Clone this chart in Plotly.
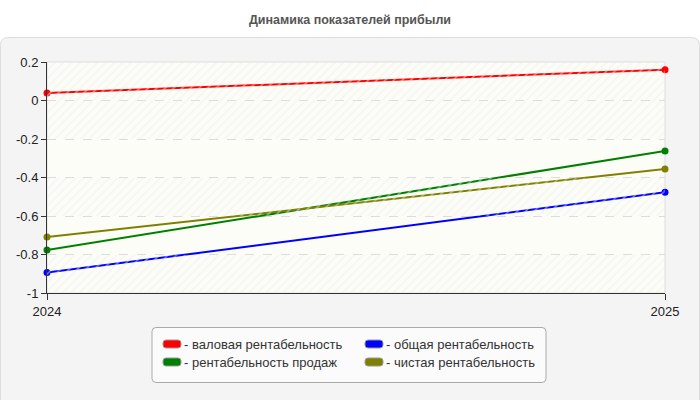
import plotly.graph_objects as go

# ---- data ----
years = [2024, 2025]
year_labels = ["2024", "2025"]
series_names = ["валовая рентабельность", "рентабельность продаж",
                "общая рентабельность", "чистая рентабельность"]
gross = [0.039, 0.16]
sales = [-0.777, -0.262]
total = [-0.894, -0.477]
net = [-0.709, -0.356]
series_values = [gross, sales, total, net]
series_colors = ["#ff0000", "#008000", "#0000ff", "#808000"]
ytick_vals = [0.2, 0, -0.2, -0.4, -0.6, -0.8, -1]
ytick_text = ["0.2", "0", "-0.2", "-0.4", "-0.6", "-0.8", "-1"]
title_text = "Динамика показателей прибыли"

# ---- geometry ----
W, H = 700, 400
L, R, T, B = 47, 35, 62, 107
PW, PH = W - L - R, H - T - B


def px2x(px):
    return (px - L) / PW


def py2y(py):
    return (H - B - py) / PH


def rrect(x0, y0, x1, y1, r):
    pts = [
        f"M {px2x(x0 + r)},{py2y(y0)}",
        f"L {px2x(x1 - r)},{py2y(y0)}",
        f"Q {px2x(x1)},{py2y(y0)} {px2x(x1)},{py2y(y0 + r)}",
        f"L {px2x(x1)},{py2y(y1 - r)}",
        f"Q {px2x(x1)},{py2y(y1)} {px2x(x1 - r)},{py2y(y1)}",
        f"L {px2x(x0 + r)},{py2y(y1)}",
        f"Q {px2x(x0)},{py2y(y1)} {px2x(x0)},{py2y(y1 - r)}",
        f"L {px2x(x0)},{py2y(y0 + r)}",
        f"Q {px2x(x0)},{py2y(y0)} {px2x(x0 + r)},{py2y(y0)}",
        "Z",
    ]
    return " ".join(pts)


fig = go.Figure()

# hatched background bands (style only)
hatch_bands = [(0.0, 0.2), (-0.2, 0.0), (-0.6, -0.4), (-1.0, -0.8)]
fig.add_trace(go.Bar(
    x=[0.5] * len(hatch_bands),
    y=[b[1] - b[0] for b in hatch_bands],
    base=[b[0] for b in hatch_bands],
    width=1,
    xaxis="x2", yaxis="y",
    marker=dict(color="rgba(0,0,0,0)", line=dict(width=0),
                pattern=dict(shape="/", fgcolor="#ececec", bgcolor="rgba(0,0,0,0)",
                             size=6, solidity=0.25)),
    hoverinfo="skip", showlegend=False,
))

for name, vals, col in zip(series_names, series_values, series_colors):
    fig.add_trace(go.Scatter(
        x=years, y=vals, name=name, mode="lines+markers",
        line=dict(color=col, width=2),
        marker=dict(color=col, size=7),
        cliponaxis=False, showlegend=False,
    ))

shapes = []
# outer panel
shapes.append(dict(type="path", xref="paper", yref="paper", layer="below",
                   path=rrect(0.5, 37.5, 699.5, 408, 8),
                   fillcolor="#f4f4f4", line=dict(color="#dddddd", width=1)))
# plot area
shapes.append(dict(type="rect", xref="paper", yref="paper", layer="below",
                   x0=0, x1=1, y0=0, y1=1, fillcolor="#fdfdf8",
                   line=dict(color="#dddddd", width=1)))
# legend box
shapes.append(dict(type="path", xref="paper", yref="paper", layer="above",
                   path=rrect(152, 327.5, 546, 382.5, 4),
                   fillcolor="#fbfbfb", line=dict(color="#aaaaaa", width=1)))

annotations = []
legend_pos = [(163, 344), (163, 362), (365, 344), (365, 362)]
for (sx, sy), name, col in zip(legend_pos, series_names, series_colors):
    shapes.append(dict(type="path", xref="paper", yref="paper", layer="above",
                       path=rrect(sx, sy - 4, sx + 18, sy + 4, 3),
                       fillcolor=col, line=dict(color="#999999", width=1)))
    annotations.append(dict(xref="paper", yref="paper", x=px2x(sx + 19), y=py2y(sy),
                            xanchor="left", yanchor="middle", showarrow=False,
                            text="- " + name,
                            font=dict(family="Liberation Sans, Arial, sans-serif",
                                      size=13, color="#333333")))

fig.update_layout(
    width=W, height=H, autosize=False,
    margin=dict(l=L, r=R, t=T, b=B, pad=0),
    paper_bgcolor="white", plot_bgcolor="rgba(0,0,0,0)",
    font=dict(family="Liberation Sans, Arial, sans-serif", size=13, color="#222222"),
    title=dict(text=title_text, x=0.5, xref="container", xanchor="center",
               y=1 - 20 / H, yref="container", yanchor="middle",
               font=dict(family="Liberation Sans, Arial, sans-serif",
                         size=12.5, color="#555555", weight="bold")),
    xaxis=dict(range=[2024, 2025], tickvals=years, ticktext=year_labels,
               showgrid=False, zeroline=False, showline=True, linecolor="#333333",
               linewidth=1, ticks="outside", ticklen=6, tickcolor="#333333",
               fixedrange=True),
    xaxis2=dict(range=[0, 1], overlaying="x", visible=False, fixedrange=True),
    yaxis=dict(range=[-1, 0.2], tickvals=ytick_vals, ticktext=ytick_text,
               showgrid=True, gridcolor="#dcdcdc", griddash="dash", gridwidth=1,
               zeroline=False, showline=True, linecolor="#333333", linewidth=1,
               ticks="outside", ticklen=5, tickcolor="#333333", fixedrange=True),
    bargap=0,
    shapes=shapes,
    annotations=annotations,
    showlegend=False,
)

fig.write_html("out.html")
